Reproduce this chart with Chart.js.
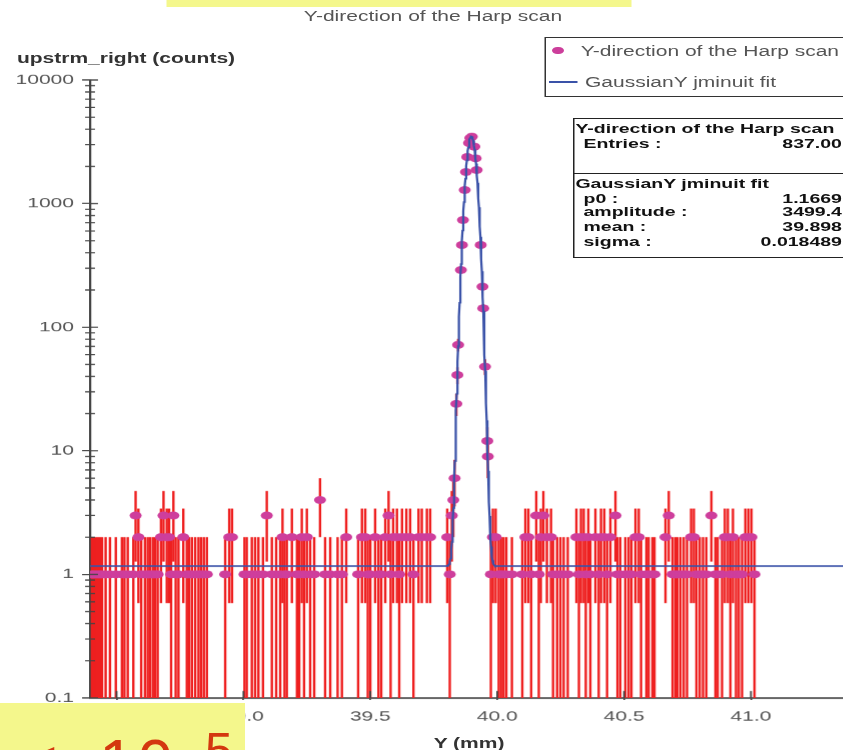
<!DOCTYPE html>
<html>
<head>
<meta charset="utf-8">
<script src="https://cdn.jsdelivr.net/npm/chart.js@4.4.1/dist/chart.umd.min.js"></script>
<style>
  html, body { margin: 0; padding: 0; width: 843px; height: 750px; overflow: hidden; background: #fff; }
  /* the whole plot is laid out in a narrow frame and stretched sideways */
  #stage { position: absolute; left: 0; top: 0; width: 587px; height: 750px;
           transform: scaleX(1.5); transform-origin: 0 0;
           font-family: 'Liberation Sans', Arial, sans-serif; }
  #plot { position: absolute; left: 0; top: 0; }
  .t { position: absolute; white-space: nowrap; font-size: 14px; line-height: 16px; color: #555; }
  .b { font-weight: bold; color: #333; }
  .s { position: absolute; white-space: nowrap; font-size: 13px; line-height: 15px; font-weight: bold; color: #111; }
  .box { position: absolute; box-sizing: border-box; background: #fff; }
  .hl { position: absolute; background: rgb(244, 247, 140); }
  .note { position: absolute; white-space: nowrap; font-family: 'Liberation Sans', Arial, sans-serif; color: #d4380f; }
</style>
</head>
<body>
<div id="stage">
  <div class="hl" style="left:110.7px; top:0; width:310.6px; height:7.3px;"></div>
  <canvas id="plot" width="587" height="750"></canvas>
  <div class="t" style="left:288.7px; top:7.5px; transform:translateX(-50%);">Y-direction of the Harp scan</div>
  <div class="t b" style="left:11.3px; top:50px;">upstrm_right (counts)</div>
  <div class="t b" style="left:312.7px; top:735px; transform:translateX(-50%);">Y (mm)</div>

  <!-- legend -->
  <div class="box" style="left:362.7px; top:36.7px; width:230px; height:60px; border:1.5px solid #333;"></div>
  <div style="position:absolute; left:368.3px; top:47px; width:7.4px; height:7.4px; border-radius:50%; background:rgb(204,62,155);"></div>
  <div class="t" style="left:387.1px; top:43px;">Y-direction of the Harp scan</div>
  <div style="position:absolute; left:366px; top:80.7px; width:18.7px; height:2px; background:rgb(58,82,168);"></div>
  <div class="t" style="left:390px; top:73.7px;">GaussianY jminuit fit</div>

  <!-- statistics box -->
  <div class="box" style="left:382px; top:118.3px; width:190px; height:140px; border:1.5px solid #222;"></div>
  <div style="position:absolute; left:382px; top:172.5px; width:190px; height:1.5px; background:#222;"></div>
  <div class="s" style="left:383.6px; top:120.8px;">Y-direction of the Harp scan</div>
  <div class="s" style="left:389px; top:135.8px;">Entries :</div>
  <div class="s" id="vEntries" style="right:25.7px; top:135.8px;"></div>
  <div class="s" style="left:383.6px; top:175.8px;">GaussianY jminuit fit</div>
  <div class="s" style="left:389px; top:190.8px;">p0 :</div>
  <div class="s" id="vP0" style="right:25.7px; top:190.8px;"></div>
  <div class="s" style="left:389px; top:204.2px;">amplitude :</div>
  <div class="s" id="vAmp" style="right:25.7px; top:204.2px;"></div>
  <div class="s" style="left:389px; top:219.2px;">mean :</div>
  <div class="s" id="vMean" style="right:25.7px; top:219.2px;"></div>
  <div class="s" style="left:389px; top:234.2px;">sigma :</div>
  <div class="s" id="vSigma" style="right:25.7px; top:234.2px;"></div>
</div>

<div class="hl" style="left:0; top:702.7px; width:245px; height:47.3px;"></div>
<span class="note" style="left:20px; top:730.8px; font-size:64px; line-height:64px;">&lt;</span>
<span class="note" style="left:99px; top:730.8px; font-size:64px; line-height:64px; letter-spacing:3px;">10</span>
<span class="note" style="left:205px; top:725.5px; font-size:50px; line-height:50px;">5</span>

<script>
// harp wire positions (mm) and counts per position
const scanPos = [
  38.403, 38.411, 38.419, 38.427, 38.435, 38.443, 38.457, 38.474, 38.497, 38.521,
  38.531, 38.544, 38.566, 38.575, 38.586, 38.597, 38.612, 38.623, 38.632, 38.643,
  38.652, 38.662, 38.675, 38.685, 38.698, 38.707, 38.715, 38.724, 38.733, 38.744,
  38.763, 38.777, 38.786, 38.797, 38.810, 38.823, 38.833, 38.844, 38.856,
  38.928, 38.944, 38.955, 39.004, 39.013, 39.033, 39.046, 39.059,
  39.077, 39.092, 39.112, 39.129, 39.145, 39.154, 39.162, 39.171, 39.191, 39.211,
  39.220, 39.230, 39.239, 39.250, 39.263, 39.279, 39.302, 39.322, 39.342, 39.371,
  39.388, 39.405, 39.452, 39.467, 39.480, 39.490, 39.500, 39.519, 39.532, 39.543,
  39.559, 39.572, 39.580, 39.590, 39.605, 39.614, 39.625, 39.642, 39.657, 39.670,
  39.690, 39.703, 39.723, 39.736,
  39.803, 39.813, 39.821, 39.827, 39.832, 39.839, 39.843, 39.846, 39.857, 39.861,
  39.865, 39.872, 39.877, 39.882, 39.889, 39.894, 39.900, 39.910, 39.915, 39.919,
  39.935, 39.942, 39.945, 39.952, 39.961, 39.963,
  39.975, 39.983, 39.994, 40.006, 40.015, 40.025, 40.036, 40.058, 40.099, 40.111,
  40.123, 40.134, 40.154, 40.164, 40.172, 40.182, 40.196, 40.212, 40.220, 40.236,
  40.249, 40.262, 40.278, 40.312, 40.322, 40.330, 40.341, 40.349, 40.359, 40.367,
  40.387, 40.400, 40.409, 40.422, 40.433, 40.446, 40.466, 40.474, 40.485, 40.505,
  40.518, 40.529, 40.545, 40.558, 40.567, 40.588, 40.597, 40.612, 40.620, 40.663,
  40.676, 40.691, 40.702, 40.710, 40.722, 40.735, 40.748, 40.764, 40.775, 40.785,
  40.798, 40.811, 40.824, 40.844, 40.860, 40.869, 40.886, 40.897, 40.909, 40.919,
  40.929, 40.941, 40.952, 40.965, 40.978, 40.990, 41.002, 41.014
];
const scanCounts = [
  1, 1, 1, 1, 1, 1, 1, 1, 1, 1,
  1, 1, 1, 3, 2, 1, 1, 1, 1, 1,
  1, 1, 2, 3, 2, 2, 1, 3, 1, 1,
  2, 1, 1, 1, 1, 1, 1, 1, 1,
  1, 2, 2, 1, 1, 1, 1, 1,
  1, 3, 1, 1, 1, 2, 1, 1, 2, 1,
  1, 2, 1, 2, 1, 1, 4, 1, 1, 1,
  1, 2, 1, 2, 2, 1, 1, 2, 1, 1,
  2, 3, 1, 2, 2, 1, 2, 2, 2, 1,
  2, 2, 2, 2,
  2, 1, 3, 4, 6, 24, 41, 72, 290, 462,
  736, 1289, 1804, 2385, 3093, 3396, 3476, 2884, 2323, 1870,
  462, 213, 142, 48, 12, 9,
  1, 2, 2, 1, 1, 1, 1, 1, 1, 2,
  2, 1, 3, 1, 2, 3, 2, 2, 1, 1,
  1, 1, 1, 2, 1, 2, 2, 1, 2, 1,
  2, 1, 2, 2, 1, 2, 3, 1, 1, 1,
  1, 1, 2, 2, 1, 1, 1, 1, 1, 2,
  3, 1, 1, 1, 1, 1, 1, 2, 2, 1,
  1, 1, 1, 3, 1, 1, 1, 2, 2, 1,
  2, 1, 1, 1, 2, 2, 2, 1
];

// GaussianY fit result
const entries = 837.00;
const fitP0 = 1.1669;
const fitAmp = 3499.4;
const fitMean = 39.898;
const fitSigma = 0.018489;

const xMin = 38.3955, xMax = 41.4416;
const xTicks = [38.5, 39.0, 39.5, 40.0, 40.5, 41.0];
const yTicks = [0.1, 1, 10, 100, 1000, 10000];
const yTickLabels = ['0.1', '1', '10', '100', '1000', '10000'];

const magenta = 'rgb(206,62,156)';
const fitBlue = 'rgb(58,82,168)';
const barRed = '#ee2020';
const axisGrey = '#444';

document.getElementById('vEntries').textContent = entries.toFixed(2);
document.getElementById('vP0').textContent = fitP0.toFixed(4);
document.getElementById('vAmp').textContent = fitAmp.toFixed(1);
document.getElementById('vMean').textContent = fitMean.toFixed(3);
document.getElementById('vSigma').textContent = fitSigma.toFixed(6);

const scanPts = scanPos.map((p, i) => ({ x: p, y: scanCounts[i] }));

// evaluate the fitted function along the axis
const fitPts = [];
const nFit = 1600;
for (let k = 0; k <= nFit; k++) {
  const xv = xMin + k * (xMax - xMin) / nFit;
  const z = (xv - fitMean) / fitSigma;
  fitPts.push({ x: xv, y: fitP0 + fitAmp * Math.exp(-0.5 * z * z) });
}

// sqrt(n) error bars, drawn under the markers
const errorBars = {
  id: 'errorBars',
  beforeDatasetsDraw(chart) {
    const { ctx, chartArea: a, scales: { x, y } } = chart;
    ctx.save();
    ctx.beginPath();
    ctx.rect(a.left, a.top, a.right - a.left, a.bottom - a.top);
    ctx.clip();
    ctx.strokeStyle = barRed;
    ctx.lineWidth = 1.6;
    scanPos.forEach((p, i) => {
      const n = scanCounts[i], e = Math.sqrt(n);
      const px = x.getPixelForValue(p);
      const top = y.getPixelForValue(n + e);
      const bot = n - e > 0 ? y.getPixelForValue(n - e) : a.bottom;
      ctx.beginPath();
      ctx.moveTo(px, top);
      ctx.lineTo(px, bot);
      ctx.stroke();
    });
    ctx.restore();
  }
};

// tick marks crossing the axes, plus the log minor ticks
const tickMarks = {
  id: 'tickMarks',
  afterDraw(chart) {
    const { ctx, chartArea: a, scales: { x, y } } = chart;
    const seg = (x1, y1, x2, y2) => { ctx.beginPath(); ctx.moveTo(x1, y1); ctx.lineTo(x2, y2); ctx.stroke(); };
    ctx.save();
    ctx.strokeStyle = axisGrey;
    ctx.lineWidth = 1.2;
    for (let d = -1; d < 4; d++) {
      for (let m = 2; m <= 9; m++) {
        const py = y.getPixelForValue(m * Math.pow(10, d));
        seg(a.left - 3.3, py, a.left + 3.3, py);
      }
    }
    yTicks.forEach(v => { const py = y.getPixelForValue(v); seg(a.left, py, a.left + 5.3, py); });
    xTicks.forEach(v => { const px = x.getPixelForValue(v); seg(px, a.bottom, px, a.bottom - 7); });
    ctx.restore();
  }
};

Chart.defaults.font.family = "'Liberation Sans', Arial, sans-serif";
Chart.defaults.font.size = 14;

new Chart(document.getElementById('plot'), {
  type: 'scatter',
  data: {
    datasets: [
      {
        label: 'GaussianY jminuit fit',
        data: fitPts,
        showLine: true,
        borderColor: fitBlue,
        borderWidth: 1.5,
        pointRadius: 0,
        tension: 0,
        order: 0
      },
      {
        label: 'Y-direction of the Harp scan',
        data: scanPts,
        pointStyle: 'circle',
        pointRadius: 4,
        backgroundColor: magenta,
        borderWidth: 0,
        order: 1
      }
    ]
  },
  options: {
    responsive: false,
    animation: false,
    devicePixelRatio: 1.5,
    layout: { padding: { top: 80, right: 12, bottom: 0, left: 0 } },
    plugins: { legend: { display: false }, tooltip: { enabled: false } },
    scales: {
      x: {
        type: 'linear',
        min: xMin,
        max: xMax,
        afterFit(s) { s.height = 52; },
        afterBuildTicks(s) { s.ticks = xTicks.map(v => ({ value: v })); },
        ticks: { callback: v => v.toFixed(1), color: '#555', padding: 8.6, maxRotation: 0, autoSkip: false },
        grid: { display: true, drawOnChartArea: false, drawTicks: true, tickLength: 2, color: axisGrey, lineWidth: 1.2 },
        border: { display: true, color: axisGrey, width: 1.5 }
      },
      y: {
        type: 'logarithmic',
        min: 0.1,
        max: 10000,
        afterFit(s) { s.width = 60; },
        afterBuildTicks(s) { s.ticks = yTicks.map(v => ({ value: v })); },
        ticks: { callback: (v, i) => yTickLabels[i], color: '#555', padding: 5.4, autoSkip: false },
        grid: { display: true, drawOnChartArea: false, drawTicks: true, tickLength: 5.3, color: axisGrey, lineWidth: 1.2 },
        border: { display: true, color: axisGrey, width: 1.5 }
      }
    }
  },
  plugins: [errorBars, tickMarks]
});
</script>
</body>
</html>
